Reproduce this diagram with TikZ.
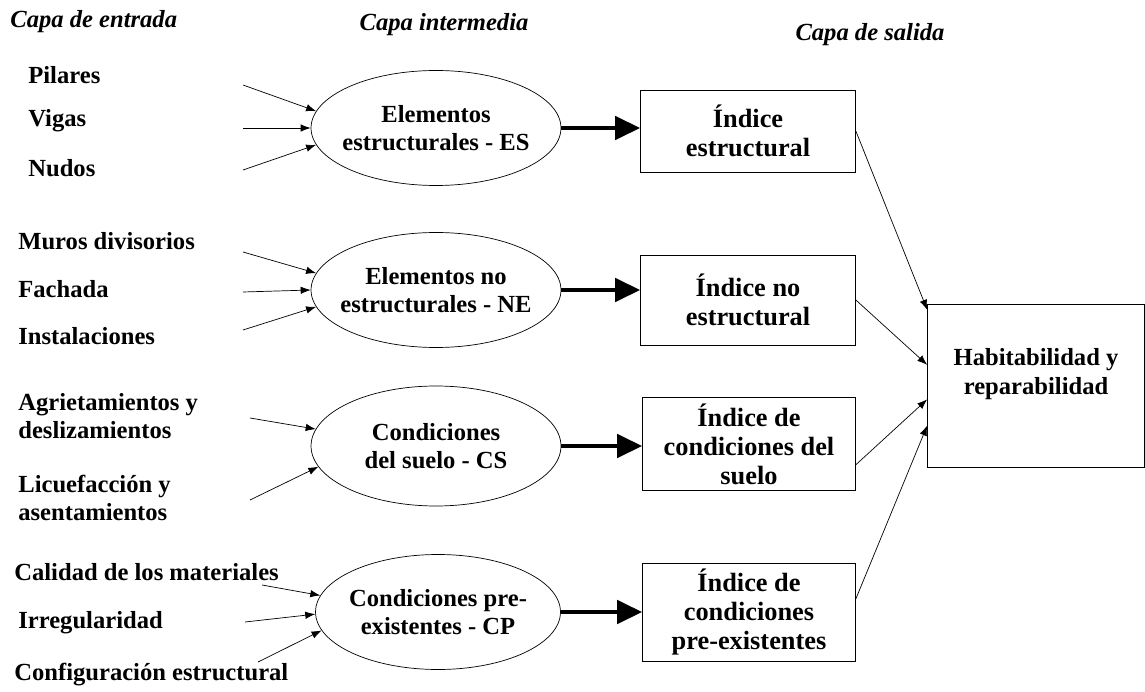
\documentclass[tikz,border=0pt]{standalone}
\usepackage{fontspec}
\setmainfont{Liberation Serif}
\usetikzlibrary{arrows.meta,shapes.geometric}

\tikzset{
	inputtxt/.style={font=\bfseries\fontsize{14}{16}\selectfont, inner sep=0pt, anchor=west},
	capatxt/.style={font=\bfseries\itshape\fontsize{14}{16}\selectfont, inner sep=0pt},
	hidden/.style={ellipse, draw, thin, minimum width=5cm, minimum height=2.3cm, align=center,
		inner xsep=-8pt, inner ysep=1pt, font=\bfseries\fontsize{14}{16}\selectfont},
	indice/.style={rectangle, draw, thin, minimum width=4.3cm, minimum height=1.7cm, align=center,
		font=\bfseries\fontsize{15}{16.5}\selectfont},
	inarrow/.style={-{Latex[length=2mm,width=1.5mm]}, thin},
	bigarrow/.style={-{Triangle[length=5mm,width=4.6mm]}, line width=2.8pt},
}

\begin{document}
\begin{tikzpicture}[x=0.02cm, y=-0.02cm]
	\useasboundingbox (0,0) rectangle (1145,692);
	% layer titles
	\node[capatxt, anchor=west] (CapaIn)  at (10,22)  {Capa de entrada};
	\node[capatxt] (CapaMid) at (444,25) {Capa intermedia};
	\node[capatxt] (CapaOut) at (870,35) {Capa de salida};
	% input layer
	\node[inputtxt] (Pilares)  at (28,75)  {Pilares};
	\node[inputtxt] (Vigas)    at (28,121) {Vigas};
	\node[inputtxt] (Nudos)    at (28,168) {Nudos};
	\node[inputtxt] (Muros)    at (18,241) {Muros divisorios};
	\node[inputtxt] (Fachada)  at (18,289) {Fachada};
	\node[inputtxt] (Instal)   at (18,336) {Instalaciones};
	\node[inputtxt, align=left] (Agriet) at (18,416) {Agrietamientos y\\deslizamientos};
	\node[inputtxt, align=left] (Licuef) at (18,498) {Licuefacción y\\asentamientos};
	\node[inputtxt] (Calidad)  at (14,572) {Calidad de los materiales};
	\node[inputtxt] (Irreg)    at (18,623) {Irregularidad};
	\node[inputtxt] (Config)   at (14,675) {Configuración estructural};
	% intermediate layer
	\node[hidden] (ES) at (436,128) {Elementos\\estructurales - ES};
	\node[hidden] (NE) at (436,290) {Elementos no\\estructurales - NE};
	\node[hidden, minimum height=2.4cm] (CS) at (436,446) {Condiciones\\del suelo - CS};
	\node[hidden, minimum width=4.9cm] (CP) at (438,612) {Condiciones pre-\\existentes - CP};
	% output layer
	\node[indice, minimum height=1.64cm] (IdxES) at (748,131) {Índice\\estructural};
	\node[indice, minimum height=1.8cm] (IdxNE) at (748,300) {Índice no\\estructural};
	\node[indice, minimum height=1.84cm, minimum width=4.26cm] (IdxCS) at (749,444) {Índice de\\condiciones del\\suelo};
	\node[indice, minimum height=1.9cm, minimum width=4.26cm] (IdxCP) at (749,612) {Índice de\\condiciones\\pre-existentes};
	\node[indice, font=\bfseries\fontsize{14}{16.5}\selectfont, minimum width=4.34cm, minimum height=3.26cm]
		(Hab) at (1036,386) {Habitabilidad y\\reparabilidad\\\vphantom{x}};
	% tails of the input arrows
	\coordinate (tPil) at (243,85);
	\coordinate (tVig) at (243,128);
	\coordinate (tNud) at (243,170);
	\coordinate (tMur) at (243,252);
	\coordinate (tFac) at (243,292);
	\coordinate (tIns) at (243,330);
	\coordinate (tAgr) at (250,418);
	\coordinate (tLic) at (250,500);
	\coordinate (tCal) at (262,585);
	\coordinate (tIrr) at (245,622);
	\coordinate (tCon) at (258,662);
	% draw the input arrows
	\draw[inarrow] (tPil) -- (ES.172);
	\draw[inarrow] (tVig) -- (ES.west);
	\draw[inarrow] (tNud) -- (ES.188);
	\draw[inarrow] (tMur) -- (NE.172);
	\draw[inarrow] (tFac) -- (NE.west);
	\draw[inarrow] (tIns) -- (NE.188);
	\draw[inarrow] (tAgr) -- (CS.172);
	\draw[inarrow] (tLic) -- (CS.190);
	\draw[inarrow] (tCal) -- (CP.172);
	\draw[inarrow] (tIrr) -- (CP.181);
	\draw[inarrow] (tCon) -- (CP.189);
	% draw the thick arrows
	\draw[bigarrow] (ES.east) -- (ES.east -| IdxES.west);
	\draw[bigarrow] (NE.east) -- (NE.east -| IdxNE.west);
	\draw[bigarrow] (CS.east) -- (CS.east -| IdxCS.west);
	\draw[bigarrow] (CP.east) -- (CP.east -| IdxCP.west);
	% draw the output arrows
	\draw[inarrow] (IdxES.east) -- (Hab.145);
	\draw[inarrow] (IdxNE.east) -- (Hab.169);
	\draw[inarrow] (IdxCS.349)  -- (Hab.187);
	\draw[inarrow] (IdxCP.7)    -- (Hab.200);
\end{tikzpicture}
\end{document}
